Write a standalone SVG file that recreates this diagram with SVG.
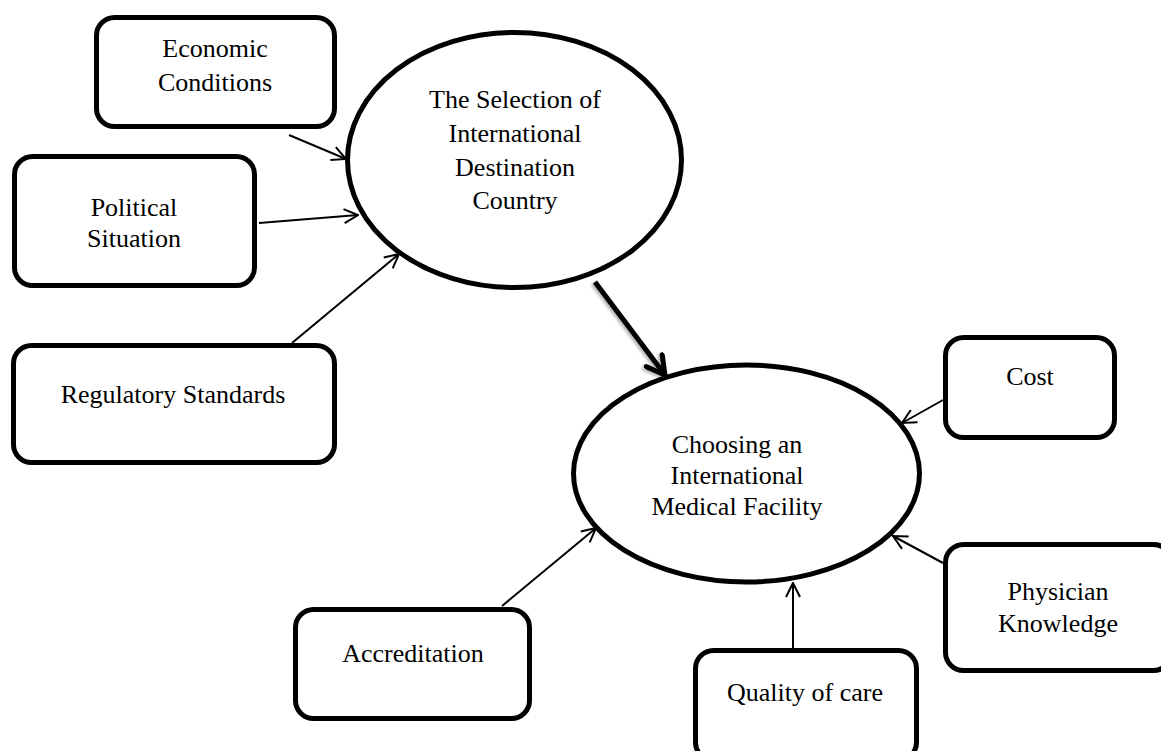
<svg xmlns="http://www.w3.org/2000/svg" width="1161" height="751" viewBox="0 0 1161 751">
  <style>
    .box { fill: #ffffff; stroke: #000000; stroke-width: 5; }
    .oval { fill: #ffffff; stroke: #000000; stroke-width: 5; }
    .lbl { font-family: "Liberation Serif", "Times New Roman", serif; font-size: 26px; fill: #000000; text-anchor: middle; }
    .link { fill: none; stroke: #000000; stroke-width: 2; marker-end: url(#open); }
    .main { fill: none; stroke: #000000; stroke-width: 5; marker-end: url(#bold); filter: url(#soft); }
  </style>
  <defs>
    <marker id="open" viewBox="0 0 16 16" refX="15" refY="8" markerWidth="16" markerHeight="16" markerUnits="userSpaceOnUse" orient="auto">
      <path d="M1,1 L15,8 L1,15" fill="none" stroke="#000000" stroke-width="2" stroke-linejoin="miter"/>
    </marker>
    <marker id="bold" viewBox="0 0 24 24" refX="21" refY="12" markerWidth="24" markerHeight="24" markerUnits="userSpaceOnUse" orient="auto">
      <path d="M3,2 L21,12 L3,22" fill="none" stroke="#000000" stroke-width="5" stroke-linecap="round" stroke-linejoin="round"/>
    </marker>
    <filter id="soft" x="-30%" y="-30%" width="160%" height="160%">
      <feDropShadow dx="-2" dy="1.5" stdDeviation="1.5" flood-color="#000000" flood-opacity="0.3"/>
    </filter>
  </defs>

  <!-- connectors -->
  <g id="connectors">
    <path class="link" d="M289,135 L346,159"/>
    <path class="link" d="M259,223 L358,215"/>
    <path class="link" d="M292,343 L399,254"/>
    <path class="main" d="M595,282 L665,375"/>
    <path class="link" d="M943,400 L902,423"/>
    <path class="link" d="M943,563 L893,536"/>
    <path class="link" d="M793,648 L793,583"/>
    <path class="link" d="M502,606 L596,528"/>
  </g>

  <!-- factor boxes -->
  <g id="economic">
    <rect class="box" x="96.5" y="17.5" width="238" height="109" rx="18"/>
    <text class="lbl" x="215" y="57">Economic</text>
    <text class="lbl" x="215" y="91">Conditions</text>
  </g>
  <g id="political">
    <rect class="box" x="14.5" y="156.5" width="240" height="129" rx="18"/>
    <text class="lbl" x="134" y="216">Political</text>
    <text class="lbl" x="134" y="247">Situation</text>
  </g>
  <g id="regulatory">
    <rect class="box" x="13.5" y="345.5" width="321" height="117" rx="18"/>
    <text class="lbl" x="173" y="403">Regulatory Standards</text>
  </g>
  <g id="cost">
    <rect class="box" x="945.5" y="337.5" width="169" height="100" rx="18"/>
    <text class="lbl" x="1030" y="385">Cost</text>
  </g>
  <g id="physician">
    <rect class="box" x="945.5" y="544.5" width="226" height="126" rx="18"/>
    <text class="lbl" x="1058" y="600">Physician</text>
    <text class="lbl" x="1058" y="632">Knowledge</text>
  </g>
  <g id="quality">
    <rect class="box" x="695.5" y="650.5" width="221" height="110" rx="18"/>
    <text class="lbl" x="805" y="701">Quality of care</text>
  </g>
  <g id="accreditation">
    <rect class="box" x="295.5" y="609.5" width="234" height="109" rx="18"/>
    <text class="lbl" x="413" y="662">Accreditation</text>
  </g>

  <!-- outcome ovals -->
  <g id="destination">
    <ellipse class="oval" cx="514.5" cy="160" rx="167" ry="127.5"/>
    <text class="lbl" x="515" y="108">The Selection of</text>
    <text class="lbl" x="515" y="142">International</text>
    <text class="lbl" x="515" y="176">Destination</text>
    <text class="lbl" x="515" y="209">Country</text>
  </g>
  <g id="facility">
    <ellipse class="oval" cx="746.5" cy="473.5" rx="173" ry="108.5"/>
    <text class="lbl" x="737" y="453">Choosing an</text>
    <text class="lbl" x="737" y="484">International</text>
    <text class="lbl" x="737" y="515">Medical Facility</text>
  </g>
</svg>
